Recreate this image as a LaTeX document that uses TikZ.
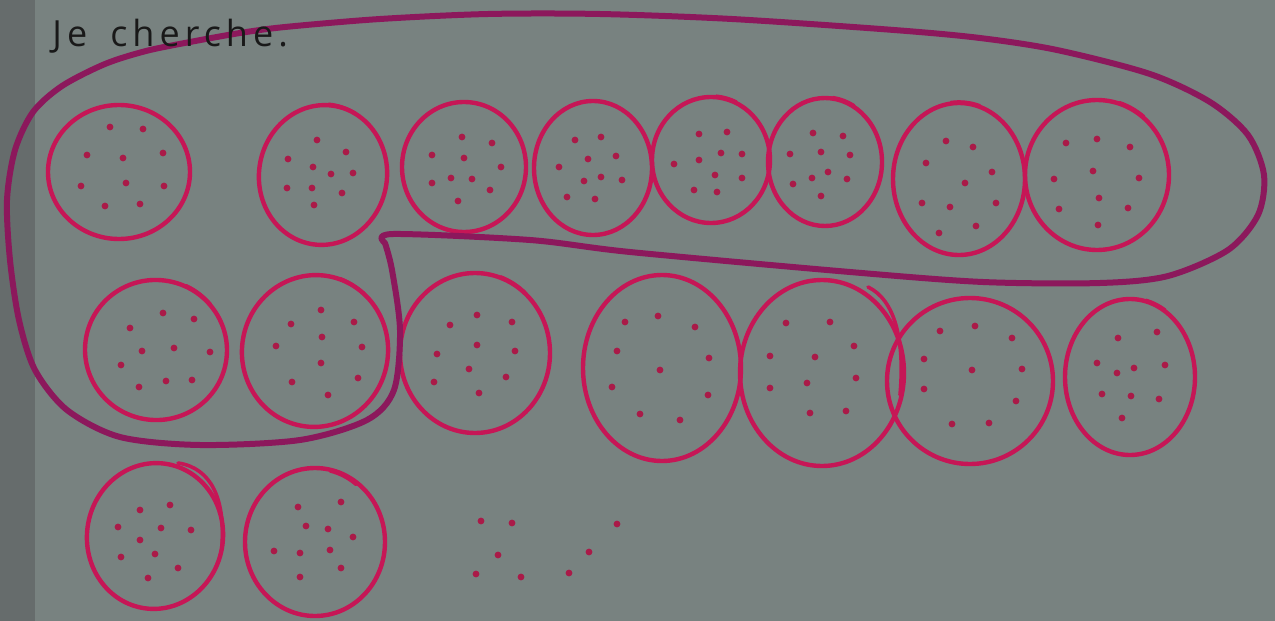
\documentclass[tikz,border=0pt]{standalone}
\usepackage{fontspec}
\setmainfont{Open Sans}
\newfontfamily\titlefont[LetterSpace=14, WordSpace=1.6]{Open Sans}
\definecolor{bgc}{RGB}{120,130,128}
\definecolor{stripc}{RGB}{102,108,108}
\definecolor{ringc}{RGB}{198,22,86}
\definecolor{dotc}{RGB}{170,26,72}
\definecolor{loopc}{RGB}{140,24,92}
\tikzset{
  ring/.style={draw=ringc, line width=2.2pt},
  tailline/.style={draw=ringc, line width=1.8pt, line cap=round},
  bigloop/.style={draw=loopc, line width=3pt, line join=round, line cap=round},
  spot/.style={fill=dotc},
  label/.style={font=\titlefont\fontsize{18}{22}\selectfont, text=black!90, anchor=west, inner sep=0pt}
}
\newcommand\blob[5]{\draw[ring, rotate around={#5:(#1,#2)}] (#1,#2) ellipse[x radius=#3, y radius=#4];}
\newcommand\tailarc[6]{\draw[tailline] (#1,#2) ++(#5:#3+5 and #4+5) arc[start angle=#5, delta angle=#6, x radius=#3+5, y radius=#4+5];}
\newcommand\spots[1]{\foreach \p in {#1} \fill[spot] \p circle[radius=1.7pt];}
\begin{document}
\begin{tikzpicture}[x=0.5pt,y=-0.5pt]
\fill[bgc] (0,0) rectangle (1275,621);
\fill[stripc] (0,0) rectangle (35,621);
\useasboundingbox (0,0) rectangle (1275,621);

% row 1
\blob{119}{172}{71}{67}{0}
\spots{(110,127),(143,129),(87,155),(123,158),(163,153),(81,186),(126,183),(164,186),(105,206),(140,204)}
\blob{323}{175}{64}{70}{-8}
\tailarc{323}{175}{60}{66}{-60}{-25}
\spots{(317,140),(346,152),(288,159),(313,167),(331,174),(353,173),(287,188),(312,188),(342,193),(314,205)}
\blob{464}{167}{62}{65}{0}
\spots{(462,137),(492,143),(432,155),(464,158),(501,167),(451,178),(472,179),(432,183),(490,190),(458,201)}
\blob{593}{168}{59}{67}{0}
\spots{(575,140),(601,137),(559,167),(588,159),(616,156),(601,177),(584,181),(622,180),(567,197),(595,199)}
\blob{711}{160}{59}{63}{0}
\tailarc{711}{160}{55}{59}{-65}{-20}
\spots{(699,134),(727,132),(674,164),(699,160),(721,153),(742,154),(715,175),(742,178),(694,190),(717,192)}
\blob{825}{162}{57}{64}{0}
\tailarc{825}{162}{53}{60}{-60}{-22}
\spots{(813,133),(843,136),(790,154),(821,152),(850,155),(828,172),(812,178),(847,179),(793,184),(821,196)}
\blob{959}{179}{66}{76}{0}
\tailarc{959}{179}{62}{72}{-72}{-25}
\spots{(946,141),(973,147),(926,163),(992,172),(965,183),(922,203),(950,207),(996,203),(939,233),(976,226)}
\blob{1097}{175}{72}{75}{0}
\tailarc{1097}{175}{68}{71}{-50}{-22}
\spots{(1066,143),(1097,139),(1130,147),(1093,171),(1054,179),(1139,178),(1099,198),(1059,209),(1128,208),(1098,225)}

% row 2
\blob{156}{350}{71}{70}{-10}
\tailarc{156}{350}{66}{66}{-40}{-25}
\spots{(163,313),(194,319),(130,328),(142,351),(174,348),(210,352),(121,365),(166,381),(192,380),(139,387)}
\blob{315}{351}{73}{76}{-10}
\tailarc{315}{351}{68}{72}{-48}{-22}
\spots{(321,310),(291,324),(354,322),(322,337),(276,346),(362,347),(321,363),(292,382),(358,378),(328,395)}
\blob{475}{353}{75}{80}{0}
\tailarc{475}{353}{70}{76}{-48}{-22}
\spots{(477,315),(450,325),(512,322),(477,345),(437,354),(515,351),(469,369),(434,382),(506,377),(479,393)}
\blob{662}{368}{79}{93}{0}
\spots{(625,322),(658,316),(695,327),(617,351),(709,358),(660,370),(612,387),(708,395),(640,414),(680,420)}
\blob{822}{373}{82}{93}{0}
\draw[tailline] (868,287) .. controls (895,300) and (905,340) .. (900,395);
\spots{(786,323),(830,322),(854,346),(770,356),(815,357),(856,378),(770,388),(807,383),(810,413),(846,411)}
\blob{970}{381}{83}{83}{0}
\tailarc{970}{381}{78}{78}{-52}{-20}
\spots{(940,331),(975,326),(1012,338),(924,359),(972,370),(1022,369),(924,389),(1016,401),(952,424),(989,423)}
\blob{1130}{377}{65}{78}{0}
\tailarc{1130}{377}{61}{74}{-58}{-18}
\spots{(1118,338),(1157,332),(1097,363),(1117,373),(1134,368),(1165,365),(1102,394),(1131,396),(1159,399),(1122,418)}

% row 3
\blob{155}{536}{68}{73}{-8}
\draw[tailline] (178,463) .. controls (212,468) and (225,500) .. (222,545);
\spots{(140,510),(170,505),(118,527),(161,528),(191,530),(140,540),(121,557),(155,554),(178,568),(148,578)}
\blob{315}{542}{70}{74}{0}
\tailarc{315}{542}{62}{68}{-52}{-25}
\spots{(298,507),(341,502),(306,526),(328,529),(353,537),(274,551),(300,553),(330,550),(341,568),(300,577)}

% loose dots
\spots{(481,521),(512,523),(617,524),(498,555),(589,552),(476,574),(521,577),(569,573)}

% big loop
\draw[bigloop] plot[smooth, tension=0.5] coordinates {
 (385,243) (393,234) (530,240) (630,252) (850,272) (983,282) (1100,283)
 (1168,276) (1228,250) (1258,215) (1264,175) (1248,135) (1210,102) (1150,74)
 (1057,50) (980,38) (894,30) (732,19) (600,14) (488,14) (380,19) (285,27) (240,33) (190,42)
 (146,51) (105,64) (62,86) (33,112) (15,150)
 (7,200) (10,260) (19,320) (35,370) (67,410) (120,437) (200,445) (300,440)
 (367,420) (394,390) (400,330) (392,270) (385,243)};

\node[label] (title) at (52,36) {Je cherche.};
\end{tikzpicture}
\end{document}
